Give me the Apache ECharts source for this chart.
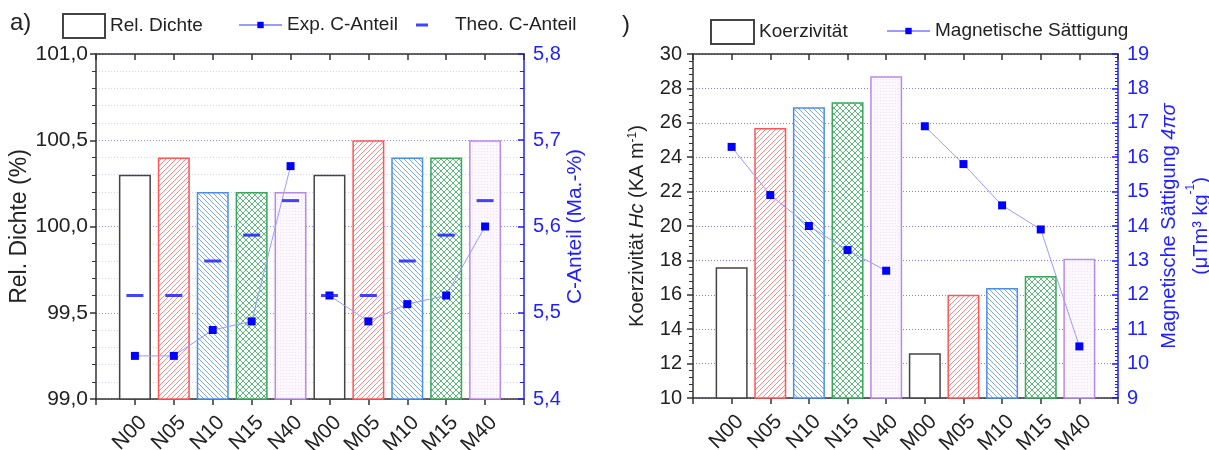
<!DOCTYPE html>
<html><head><meta charset="utf-8">
<script src="https://cdn.jsdelivr.net/npm/echarts@6/dist/echarts.min.js"></script>
<style>html,body{margin:0;padding:0;background:#fff}#c{width:1209px;height:450px}</style>
</head><body><div id="c"></div>
<script>
// ---- data ----
const categories = ['N00','N05','N10','N15','N40','M00','M05','M10','M15','M40'];
const relDichte = [100.3,100.4,100.2,100.2,100.2,100.3,100.5,100.4,100.4,100.5];
const expC      = [5.45,5.45,5.48,5.49,5.67,5.52,5.49,5.51,5.52,5.60];
const theoC     = [5.52,5.52,5.56,5.59,5.63,5.52,5.52,5.56,5.59,5.63];
const koerz     = [17.6,25.7,26.9,27.2,28.7,12.6,16.0,16.4,17.1,18.1];
const magSat    = [16.3,14.9,14.0,13.3,12.7,16.9,15.8,14.6,13.9,10.5];

// ---- styles ----
const FONT = 'Liberation Sans, Arial, sans-serif';
const BLUE = '#1f1fff';
function pattern(bg, color, kind, size){
  const c=document.createElement('canvas'); c.width=c.height=size;
  const g=c.getContext('2d'); g.fillStyle=bg; g.fillRect(0,0,size,size);
  g.strokeStyle=color; g.lineWidth=1; g.beginPath();
  if(kind==='/'||kind==='x'){g.moveTo(-1,size+1);g.lineTo(size+1,-1);g.moveTo(-1,1);g.lineTo(1,-1);g.moveTo(size-1,size+1);g.lineTo(size+1,size-1);}
  if(kind==='\\'||kind==='x'){g.moveTo(-1,-1);g.lineTo(size+1,size+1);g.moveTo(size-1,-1);g.lineTo(size+1,1);g.moveTo(-1,size-1);g.lineTo(1,size+1);}
  if(kind==='.'){g.fillStyle=color;g.fillRect(1,1,1,1);}
  g.stroke(); return {image:c, repeat:'repeat'};
}
const barStyles = [
  {color:'#ffffff', borderColor:'#444444', borderWidth:1.5},
  {color:pattern('#ffffff','#ff8a8a','/',5), borderColor:'#ff5555', borderWidth:1.5},
  {color:pattern('#ffffff','#78a9ee','\\',5), borderColor:'#4a8ee8', borderWidth:1.5},
  {color:pattern('#ffffff','#5cba7a','x',6), borderColor:'#3aa65c', borderWidth:1.5},
  {color:pattern('#fcf8fe','#ece0f6','.',3), borderColor:'#b98ae6', borderWidth:1.5}
];
const fmtComma = v => v.toFixed(1).replace('.', ',');
const catLabel = v => categories[v-1] || '';
const pts = (arr, off) => arr.map((v,i)=>[i+1+(off||0), v]);

function xBottom(grid){
  return {type:'value', gridIndex:grid, position:'bottom', min:0, max:11, interval:1,
    axisLine:{show:true, onZero:false, lineStyle:{color:'#333', width:1.5}},
    axisTick:{show:true, length:6, lineStyle:{color:'#333', width:1.5}},
    axisLabel:{rotate:45, margin:12, verticalAlign:'top', lineHeight:24, fontSize:21, color:'#222', fontFamily:FONT, formatter:catLabel},
    splitLine:{show:false}};
}
function xTop(grid){
  return {type:'value', gridIndex:grid, position:'top', min:0, max:11, interval:1,
    axisLine:{show:true, onZero:false, lineStyle:{color:'#333', width:1.5}},
    axisTick:{show:true, inside:true, length:6, lineStyle:{color:'#333', width:1.5}},
    axisLabel:{show:false}, splitLine:{show:false}};
}

const option = {
  animation:false,
  textStyle:{fontFamily:FONT},
  graphic:[
    {type:'text', left:10, top:11, style:{text:'a)', fontSize:24, fill:'#222', fontFamily:FONT}},
    {type:'text', left:622, top:13, style:{text:')', fontSize:24, fill:'#222', fontFamily:FONT}}
  ],
  legend:[
    {left:62, top:13, padding:0, itemWidth:42, itemHeight:24, icon:'rect', data:['Rel. Dichte'], textStyle:{fontSize:19, color:'#222', lineHeight:24}},
    {left:238, top:13, padding:0, itemWidth:43, itemHeight:8, data:['Exp. C-Anteil'], textStyle:{fontSize:19, color:'#222', lineHeight:24}},
    {left:416, top:13, padding:0, itemWidth:12, itemHeight:3, icon:'rect', data:['Theo. C-Anteil'], textStyle:{fontSize:19, color:'#222', lineHeight:24, padding:[0,0,0,22]}},
    {left:710, top:19, padding:0, itemWidth:43, itemHeight:24, icon:'rect', data:['Koerzivität'], textStyle:{fontSize:19, color:'#222', lineHeight:24}},
    {left:886, top:19, padding:0, itemWidth:43, itemHeight:8, data:['Magnetische Sättigung'], textStyle:{fontSize:19, color:'#222', lineHeight:24}}
  ],
  grid:[
    {left:96, top:54, width:428, height:345, containLabel:false, outerBoundsMode:'none'},
    {left:693, top:54, width:425, height:344, containLabel:false, outerBoundsMode:'none'}
  ],
  xAxis:[xBottom(0), xTop(0), xBottom(1), xTop(1)],
  yAxis:[
    {type:'value', gridIndex:0, position:'left', min:99, max:101, interval:0.5,
      name:'Rel. Dichte (%)', nameLocation:'middle', nameGap:64, nameTextStyle:{fontSize:23, color:'#222'},
      axisLine:{show:true, onZero:false, lineStyle:{color:'#333', width:1.5}},
      axisTick:{show:true, length:6, lineStyle:{color:'#333', width:1.5}},
      minorTick:{show:true, splitNumber:5, length:4, lineStyle:{color:'#333', width:1}},
      axisLabel:{fontSize:21, color:'#222', margin:8, formatter:fmtComma},
      splitLine:{show:false}},
    {type:'value', gridIndex:0, position:'right', min:5.4, max:5.8, interval:0.1,
      name:'C-Anteil (Ma.-%)', nameLocation:'middle', nameGap:41, nameTextStyle:{fontSize:21, color:BLUE},
      axisLine:{show:true, onZero:false, lineStyle:{color:BLUE, width:1.5}},
      axisTick:{show:true, inside:true, length:6, lineStyle:{color:BLUE, width:1.5}},
      minorTick:{show:true, splitNumber:5, length:4, lineStyle:{color:BLUE, width:1}},
      axisLabel:{fontSize:20, color:BLUE, margin:9, formatter:fmtComma},
      splitLine:{show:true, lineStyle:{color:'#8c8cff', type:[1,2], width:1}},
      minorSplitLine:{show:true, lineStyle:{color:'#d4d4f6', type:[1,2], width:1}}},
    {type:'value', gridIndex:1, position:'left', min:10, max:30, interval:2,
      name:'Koerzivität {i|Hc} (KA m{sup|-1})', nameLocation:'middle', nameGap:46,
      nameTextStyle:{fontSize:20, color:'#222', rich:{i:{fontSize:20, fontStyle:'italic', color:'#222'}, sup:{fontSize:12, color:'#222', verticalAlign:'top'}}},
      axisLine:{show:true, onZero:false, lineStyle:{color:'#333', width:1.5}},
      axisTick:{show:true, length:6, lineStyle:{color:'#333', width:1.5}},
      minorTick:{show:true, splitNumber:5, length:4, lineStyle:{color:'#333', width:1}},
      axisLabel:{fontSize:20, color:'#222', margin:11},
      splitLine:{show:false}},
    {type:'value', gridIndex:1, position:'right', min:9, max:19, interval:1,
      name:'Magnetische Sättigung {i|4πσ}\n(μTm³ kg{sup|-1})', nameLocation:'middle', nameGap:33,
      nameTextStyle:{fontSize:20, color:BLUE, lineHeight:32, rich:{i:{fontSize:20, fontStyle:'italic', color:BLUE}, sup:{fontSize:12, color:BLUE, verticalAlign:'top'}}},
      axisLine:{show:true, onZero:false, lineStyle:{color:BLUE, width:1.5}},
      axisTick:{show:true, inside:true, length:6, lineStyle:{color:BLUE, width:1.5}},
      minorTick:{show:true, splitNumber:10, length:3, lineStyle:{color:BLUE, width:1}},
      axisLabel:{fontSize:20, color:BLUE, margin:9},
      splitLine:{show:true, lineStyle:{color:'#8080ff', type:[1,2], width:1}}}
  ],
  series:[
    {name:'Rel. Dichte', type:'bar', xAxisIndex:0, yAxisIndex:0, barWidth:32, clip:true,
      itemStyle:barStyles[0],
      data: relDichte.map((v,i)=>({value:[i+1, v], itemStyle:barStyles[i%5]}))},
    {name:'Exp. C-Anteil', type:'line', xAxisIndex:0, yAxisIndex:1, z:5, symbol:'rect', symbolSize:8,
      lineStyle:{color:'#9a9aff', width:1}, itemStyle:{color:'#0000ff'},
      data: pts(expC.slice(0,5))},
    {name:'Exp. C-Anteil', type:'line', xAxisIndex:0, yAxisIndex:1, z:5, symbol:'rect', symbolSize:8,
      lineStyle:{color:'#9a9aff', width:1}, itemStyle:{color:'#0000ff'},
      data: pts(expC.slice(5), 5)},
    {name:'Theo. C-Anteil', type:'scatter', xAxisIndex:0, yAxisIndex:1, z:6, symbol:'rect', symbolSize:[17,3],
      itemStyle:{color:'#1414ff'}, data: pts(theoC)},
    {name:'Koerzivität', type:'bar', xAxisIndex:2, yAxisIndex:2, barWidth:32, clip:true,
      itemStyle:barStyles[0],
      data: koerz.map((v,i)=>({value:[i+1, v], itemStyle:barStyles[i%5]}))},
    {name:'Magnetische Sättigung', type:'line', xAxisIndex:2, yAxisIndex:3, z:5, symbol:'rect', symbolSize:8,
      lineStyle:{color:'#9a9aff', width:1}, itemStyle:{color:'#0000ff'},
      data: pts(magSat.slice(0,5))},
    {name:'Magnetische Sättigung', type:'line', xAxisIndex:2, yAxisIndex:3, z:5, symbol:'rect', symbolSize:8,
      lineStyle:{color:'#9a9aff', width:1}, itemStyle:{color:'#0000ff'},
      data: pts(magSat.slice(5), 5)}
  ]
};
const chart = echarts.init(document.getElementById('c'), null, {renderer:'canvas'});
chart.setOption(option);
</script></body></html>
